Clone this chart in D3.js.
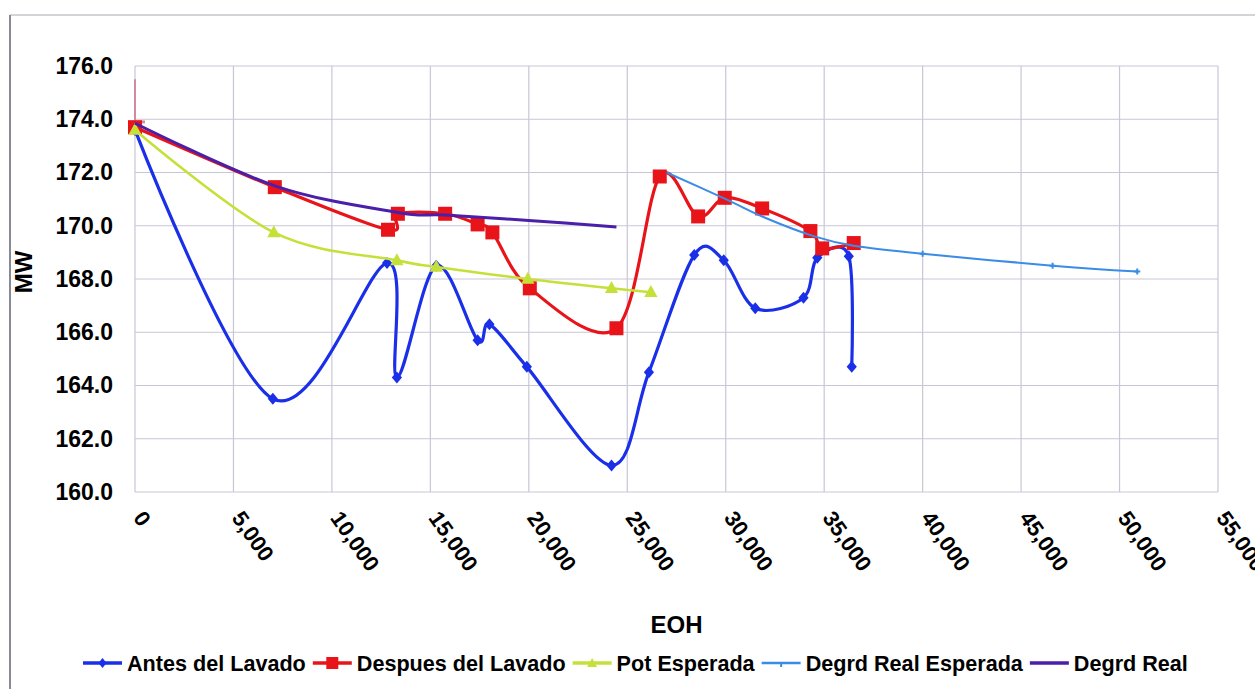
<!DOCTYPE html>
<html><head><meta charset="utf-8">
<script src="https://cdn.jsdelivr.net/npm/d3@7"></script>
<style>
body{margin:0;background:#fff;}
text{font-family:"Liberation Sans",Arial,sans-serif;font-weight:bold;fill:#000;}
</style>
</head><body>
<svg id="chart" width="1255" height="689"></svg>
<script>
// ---- data ----
const xTicks = [0,5000,10000,15000,20000,25000,30000,35000,40000,45000,50000,55000];
const yTicks = [160,162,164,166,168,170,172,174,176];

const antesEOH = [0,7000,12800,13300,15300,17400,18000,19900,24200,26100,28400,29900,31500,33950,34650,36250,36400];
const antesMW  = [173.6,163.5,168.6,164.3,168.5,165.7,166.3,164.7,161.0,164.5,168.9,168.7,166.9,167.3,168.8,168.85,164.7];

const despuesEOH = [0,7100,12850,13350,15750,17400,18150,20050,24450,26650,28600,29950,31850,34300,34900,36500];
const despuesMW  = [173.7,171.45,169.85,170.45,170.45,170.05,169.75,167.65,166.15,171.85,170.35,171.05,170.65,169.8,169.15,169.35];

const potEOH = [0,7050,13300,15300,19950,24200,26200];
const potMW  = [173.6,169.75,168.7,168.45,168.0,167.65,167.5];

const esperadaEOH = [27000,30000,32000,34500,36500,40000,46600,50900];
const esperadaMW  = [172.0,171.0,170.3,169.6,169.25,168.95,168.5,168.28];

const realEOH = [0,7100,13350,15750,20000,24450];
const realMW  = [173.85,171.5,170.5,170.4,170.2,169.95];

// thin error bar at the start of the red series
const startBarEOH = [0];
const startBarLow = [173.9];
const startBarHigh = [175.5];

const seriesNames = ["Antes del Lavado","Despues del Lavado","Pot Esperada","Degrd Real Esperada","Degrd Real"];

// ---- build ----
const svg = d3.select("#chart");
const W = 1255, H = 689;
const plot = {left:135, right:1218, top:66, bottom:492};

const x = d3.scaleLinear().domain([0,55000]).range([plot.left, plot.right]);
const y = d3.scaleLinear().domain([160,176]).range([plot.bottom, plot.top]);

// outer frame
svg.append("rect").attr("x",0).attr("y",0).attr("width",W).attr("height",H).attr("fill","#fff");
svg.append("line").attr("x1",10).attr("x2",W).attr("y1",15).attr("y2",15).attr("stroke","#d4d4d8").attr("stroke-width",2);
svg.append("line").attr("x1",10).attr("x2",10).attr("y1",15).attr("y2",H).attr("stroke","#8a8a94").attr("stroke-width",2);

// grid
const grid = svg.append("g");
grid.selectAll("line.h").data(yTicks).join("line")
  .attr("x1",plot.left).attr("x2",plot.right)
  .attr("y1",d=>y(d)).attr("y2",d=>y(d))
  .attr("stroke","#c9c6d6").attr("stroke-width",1.2);
grid.selectAll("line.v").data(xTicks).join("line")
  .attr("y1",plot.top).attr("y2",plot.bottom)
  .attr("x1",d=>x(d)).attr("x2",d=>x(d))
  .attr("stroke","#c9c6d6").attr("stroke-width",1.2);

// y axis labels
const yAxis = d3.axisLeft(y).tickValues(yTicks).tickFormat(d3.format(".1f")).tickSize(0).tickPadding(22);
const gy = svg.append("g").attr("transform",`translate(${plot.left},0)`).call(yAxis);
gy.select(".domain").remove();
gy.selectAll("text").style("font-size","23px").style("font-family","'Liberation Sans',Arial,sans-serif").style("font-weight","bold").attr("fill","#000");

// x axis labels (rotated)
const xAxis = d3.axisBottom(x).tickValues(xTicks).tickFormat(d3.format(",")).tickSize(0);
const gx = svg.append("g").attr("transform",`translate(0,${plot.bottom})`).call(xAxis);
gx.select(".domain").remove();
gx.selectAll("text")
  .style("font-size","22px").style("font-family","'Liberation Sans',Arial,sans-serif").style("font-weight","bold")
  .attr("fill","#000")
  .attr("text-anchor","start")
  .attr("dy","0")
  .attr("y",0)
  .attr("transform","translate(-3,26) rotate(55)");

// axis titles
svg.append("text").attr("x",(plot.left+plot.right)/2).attr("y",633).attr("text-anchor","middle")
  .style("font-size","24px").text("EOH");
svg.append("text").attr("transform",`translate(32,${(plot.top+plot.bottom)/2-7}) rotate(-90)`).attr("text-anchor","middle")
  .style("font-size","24px").text("MW");

const curve = d3.curveCatmullRom.alpha(0);
const lineGen = d3.line().x(d=>x(d[0])).y(d=>y(d[1])).curve(curve);
const zip = (a,b)=>a.map((v,i)=>[v,b[i]]);

const colors = ["#1a2fe8","#e8141a","#c6e03a","#3b8ce6","#4b1fa8"];
const widths = [3.2,3.2,2.6,2,3];

function diamond(g, pts, c, r){
  g.selectAll(null).data(pts).join("path")
   .attr("d",d=>{const cx=x(d[0]),cy=y(d[1]);return `M${cx},${cy-r}L${cx+r*0.85},${cy}L${cx},${cy+r}L${cx-r*0.85},${cy}Z`;})
   .attr("fill",c);
}
function square(g, pts, c, s){
  g.selectAll(null).data(pts).join("rect")
   .attr("x",d=>x(d[0])-s/2).attr("y",d=>y(d[1])-s/2).attr("width",s).attr("height",s).attr("fill",c);
}
function triangle(g, pts, c, s){
  g.selectAll(null).data(pts).join("path")
   .attr("d",d=>{const cx=x(d[0]),cy=y(d[1]);return `M${cx},${cy-s*0.6}L${cx+s*0.55},${cy+s*0.4}L${cx-s*0.55},${cy+s*0.4}Z`;})
   .attr("fill",c);
}
function tick(g, pts, c){
  g.selectAll(null).data(pts).join("path")
   .attr("d",d=>{const cx=x(d[0]),cy=y(d[1]);return `M${cx},${cy-3}L${cx},${cy+3}M${cx-3},${cy}L${cx+3},${cy}`;})
   .attr("stroke",c).attr("stroke-width",2);
}

// error bar at start
const eb = svg.append("g");
eb.selectAll(null).data(startBarEOH).join("line")
  .attr("x1",d=>x(d)).attr("x2",d=>x(d))
  .attr("y1",(d,i)=>y(startBarHigh[i])).attr("y2",(d,i)=>y(startBarLow[i]))
  .attr("stroke","#d26a8c").attr("stroke-width",1.5);
eb.selectAll(null).data(startBarEOH).join("line")
  .attr("x1",d=>x(d)-7).attr("x2",d=>x(d)+10)
  .attr("y1",(d,i)=>y(startBarLow[i])).attr("y2",(d,i)=>y(startBarLow[i]))
  .attr("stroke","#d98aa4").attr("stroke-width",3);

const dataSets = [zip(antesEOH,antesMW), zip(despuesEOH,despuesMW), zip(potEOH,potMW), zip(esperadaEOH,esperadaMW), zip(realEOH,realMW)];

dataSets.forEach((pts,i)=>{
  const g = svg.append("g");
  g.append("path").attr("d",lineGen(pts)).attr("fill","none").attr("stroke",colors[i]).attr("stroke-width",widths[i]).attr("stroke-linejoin","round");
  if(i===0) diamond(g,pts,colors[0],6);
  if(i===1) square(g,pts,colors[1],14);
  if(i===2) triangle(g,pts,colors[2],12);
  if(i===3) tick(g,pts.slice(5),colors[3]);
});

// legend
const lg = svg.append("g");
let lx = 83;
const ly = 663;
seriesNames.forEach((name,i)=>{
  const g = lg.append("g");
  g.append("line").attr("x1",lx).attr("x2",lx+39).attr("y1",ly).attr("y2",ly).attr("stroke",colors[i]).attr("stroke-width",i===3?2.5:3.5);
  const cx = lx+19.5;
  if(i===0) g.append("path").attr("d",`M${cx},${ly-5}L${cx+4},${ly}L${cx},${ly+5}L${cx-4},${ly}Z`).attr("fill",colors[0]);
  if(i===1) g.append("rect").attr("x",cx-6).attr("y",ly-6).attr("width",12).attr("height",12).attr("fill",colors[1]);
  if(i===2) g.append("path").attr("d",`M${cx},${ly-5}L${cx+5},${ly+4}L${cx-5},${ly+4}Z`).attr("fill",colors[2]);
  if(i===3) g.append("path").attr("d",`M${cx},${ly}L${cx},${ly+4}`).attr("stroke",colors[3]).attr("stroke-width",2);
  const t = g.append("text").attr("x",lx+44).attr("y",ly+8).style("font-size","21.6px").text(name);
  lx = lx + 44 + t.node().getComputedTextLength() + 7;
});
</script>
</body></html>
